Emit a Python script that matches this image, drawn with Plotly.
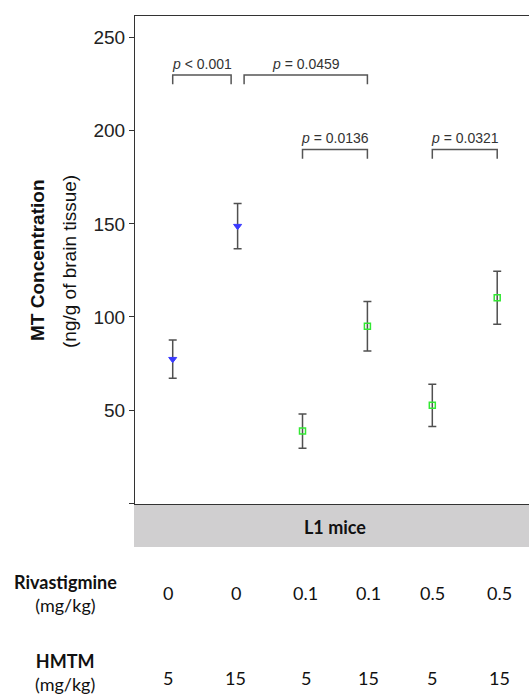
import plotly.graph_objects as go

# ---- data ----
groups = [1, 2, 3, 4, 5, 6]
means = [77.3, 148.8, 38.7, 95.0, 52.5, 110.3]
errors = [10.3, 12.2, 9.2, 13.3, 11.4, 14.2]
rivastigmine = ["0", "0", "0.1", "0.1", "0.5", "0.5"]
hmtm = ["5", "15", "5", "15", "5", "15"]
blue_idx = [0, 1]
green_idx = [2, 3, 4, 5]

bracket_x0 = [1.0, 2.1, 3.0, 5.0]
bracket_x1 = [1.9, 4.0, 4.0, 6.0]
bracket_y = [230, 230, 190, 190]
bracket_tick = 5
p_labels = ["<i>p</i> < 0.001", "<i>p</i> = 0.0459", "<i>p</i> = 0.0136", "<i>p</i> = 0.0321"]

y_tickvals = [0, 50, 100, 150, 200, 250]
y_ticktext = ["", "50", "100", "150", "200", "250"]

ARIAL = "Liberation Sans, Arial, sans-serif"
CAL = "Lato, Calibri, sans-serif"

W, H = 529, 696
PL, PT, PB = 135, 16, 696 - 504
PW, PH = W - PL, H - PT - PB
COL_SHIFT = [-5, -2, 3, 1, 0, 2]  # small pixel nudges of the table text


def px_x(px):
    return (px - PL) / PW


def px_y(py):
    return (504 - py) / PH


fig = go.Figure()

err_style = dict(type="data", thickness=1.5, width=4, color="#505050")

fig.add_trace(go.Scatter(
    x=[groups[i] for i in blue_idx], y=[means[i] for i in blue_idx],
    error_y=dict(array=[errors[i] for i in blue_idx], **err_style),
    mode="markers",
    marker=dict(symbol="triangle-down", size=7, color="#3a3aff",
                line=dict(width=1, color="#3a3aff")),
    showlegend=False))

fig.add_trace(go.Scatter(
    x=[groups[i] for i in green_idx], y=[means[i] for i in green_idx],
    error_y=dict(array=[errors[i] for i in green_idx], **err_style),
    mode="markers",
    marker=dict(symbol="square-open", size=6, color="#33e833",
                line=dict(width=1.5, color="#33e833")),
    showlegend=False))

shapes = []
annotations = []
for x0, x1, y, lab in zip(bracket_x0, bracket_x1, bracket_y, p_labels):
    shapes.append(dict(type="path", xref="x", yref="y",
                       path=f"M {x0},{y - bracket_tick} L {x0},{y} L {x1},{y} L {x1},{y - bracket_tick}",
                       line=dict(color="#555555", width=1.5)))
    annotations.append(dict(x=(x0 + x1) / 2, y=y, xref="x", yref="y", text=lab,
                            showarrow=False, xanchor="center", yanchor="bottom", yshift=1,
                            font=dict(family=ARIAL, size=14, color="#333333")))

# gray band
shapes.append(dict(type="rect", xref="paper", yref="paper", x0=px_x(134), x1=1.0,
                   y0=px_y(547), y1=px_y(505), fillcolor="#d0cfd0", line=dict(width=0),
                   layer="below"))
annotations.append(dict(x=px_x(335), y=px_y(527), xref="paper", yref="paper", text="<b>L1 mice</b>",
                        xanchor="center", yanchor="middle",
                        showarrow=False, font=dict(family=CAL, size=18, color="#111111")))

# y-axis titles
annotations.append(dict(x=px_x(37), y=px_y(260), xref="paper", yref="paper",
                        text="<b>MT Concentration</b>", xanchor="center", yanchor="middle",
                        textangle=-90, showarrow=False,
                        font=dict(family=ARIAL, size=19, color="#111111")))
annotations.append(dict(x=px_x(69), y=px_y(262), xref="paper", yref="paper",
                        text="(ng/g of brain tissue)", xanchor="center", yanchor="middle",
                        textangle=-90, showarrow=False,
                        font=dict(family=ARIAL, size=19, color="#111111")))

# table rows
row_y = [px_y(593), px_y(678)]
label_y = [px_y(593), px_y(672)]
for vals, ry, ly, name in zip([rivastigmine, hmtm], row_y, label_y, ["Rivastigmine", "HMTM"]):
    for g, v, sh in zip(groups, vals, COL_SHIFT):
        annotations.append(dict(x=g, y=ry, xref="x", yref="paper", text=v, showarrow=False,
                                xanchor="center", yanchor="middle", xshift=sh,
                                font=dict(family=CAL, size=18, color="#111111")))
    annotations.append(dict(x=px_x(65), y=ly, xref="paper", yref="paper",
                            text=f"<b>{name}</b><br>(mg/kg)", showarrow=False,
                            xanchor="center", yanchor="middle", align="center",
                            font=dict(family=CAL, size=18, color="#111111")))

fig.update_layout(
    width=W, height=H,
    margin=dict(l=PL, r=0, t=PT, b=PB, pad=0),
    paper_bgcolor="white", plot_bgcolor="white",
    shapes=shapes, annotations=annotations,
    xaxis=dict(range=[0.419, 0.419 + PW / 64.9], showgrid=False, zeroline=False,
               showticklabels=False, ticks="", showline=True, mirror=True,
               linecolor="#333333", linewidth=1),
    yaxis=dict(range=[-0.5, 261.7], showgrid=False, zeroline=False,
               tickvals=y_tickvals, ticktext=y_ticktext, ticks="outside", ticklen=5,
               tickcolor="#333333", showline=True, linecolor="#333333", linewidth=1,
               tickfont=dict(family=ARIAL, size=19, color="#222222")),
)

fig.write_html("out.html", config={"displayModeBar": False},
               post_script="document.body.style.margin='0px';document.body.style.overflow='hidden';")
